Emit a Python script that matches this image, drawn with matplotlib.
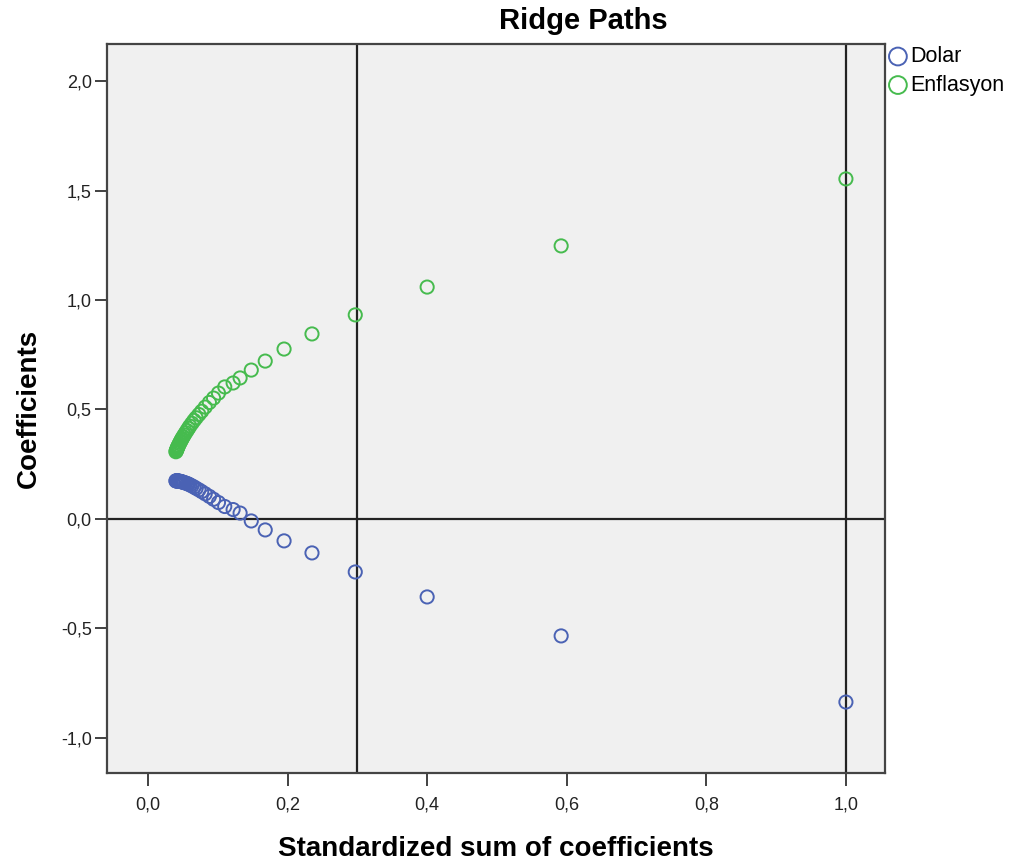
import matplotlib
matplotlib.use("Agg")
import matplotlib.pyplot as plt
from matplotlib.ticker import FuncFormatter

# ---- data ----
std_sum = [1.000, 0.592, 0.400, 0.297, 0.235, 0.195, 0.168, 0.148, 0.132, 0.122,
           0.110, 0.101, 0.094, 0.088, 0.082, 0.077, 0.073, 0.069, 0.066, 0.063,
           0.060, 0.058, 0.056, 0.054, 0.052, 0.0505, 0.049, 0.048, 0.047, 0.046,
           0.045, 0.044, 0.0432, 0.0425, 0.042, 0.0415, 0.041, 0.0405, 0.040]
dolar = [-0.836, -0.534, -0.356, -0.242, -0.155, -0.100, -0.050, -0.009, 0.027, 0.043,
         0.057, 0.075, 0.090, 0.103, 0.115, 0.125, 0.133, 0.140, 0.146, 0.151,
         0.156, 0.159, 0.162, 0.164, 0.166, 0.168, 0.169, 0.170, 0.171, 0.172,
         0.172, 0.173, 0.173, 0.174, 0.174, 0.174, 0.174, 0.174, 0.174]
enflasyon = [1.553, 1.247, 1.059, 0.932, 0.845, 0.776, 0.721, 0.680, 0.644, 0.621,
             0.603, 0.575, 0.552, 0.532, 0.511, 0.492, 0.477, 0.462, 0.450, 0.437,
             0.424, 0.414, 0.404, 0.394, 0.384, 0.376, 0.368, 0.362, 0.356, 0.350,
             0.344, 0.337, 0.332, 0.327, 0.323, 0.319, 0.315, 0.311, 0.307]
series_names = ["Dolar", "Enflasyon"]
x_ticks = [0.0, 0.2, 0.4, 0.6, 0.8, 1.0]
y_ticks = [-1.0, -0.5, 0.0, 0.5, 1.0, 1.5, 2.0]
ref_x = [0.3, 1.0]
ref_y = [0.0]

plt.rcParams['font.family'] = ['Liberation Sans', 'DejaVu Sans']

fig = plt.figure(figsize=(10.11, 8.66), dpi=100)
ax = fig.add_axes([107/1011, 1-773/866, (885-107)/1011, (773-44)/866])
ax.set_facecolor('#f0f0f0')

blue = '#4a62b4'
green = '#46bb4e'
ax.scatter(std_sum, dolar, s=90, facecolors='none', edgecolors=blue, linewidths=1.4,
           label=series_names[0], zorder=3)
ax.scatter(std_sum, enflasyon, s=90, facecolors='none', edgecolors=green, linewidths=1.4,
           label=series_names[1], zorder=3)

for xv in ref_x:
    ax.axvline(xv, color='#222222', lw=1.6, zorder=2)
for yv in ref_y:
    ax.axhline(yv, color='#222222', lw=1.6, zorder=2)

ax.set_xlim(-0.0587, 1.056)
ax.set_ylim(-1.16, 2.169)
ax.set_xticks(x_ticks)
ax.set_yticks(y_ticks)
fmt = FuncFormatter(lambda v, p: f"{v:.1f}".replace('.', ','))
ax.xaxis.set_major_formatter(fmt)
ax.yaxis.set_major_formatter(fmt)
ax.tick_params(axis='both', direction='out', length=9, width=1.3, color='#333333',
               labelsize=13, labelcolor='#222222')
ax.tick_params(axis='x', pad=8)
ax.tick_params(axis='y', pad=2)
for sp in ax.spines.values():
    sp.set_color('#444444')
    sp.set_linewidth(1.6)

ax.set_xlabel("Standardized sum of coefficients", fontsize=20, fontweight='bold', labelpad=16)
ax.set_ylabel("Coefficients", fontsize=20, fontweight='bold', labelpad=14)
fig.text(583/1011, 1-21/866, "Ridge Paths", ha='center', va='center', fontsize=21,
         fontweight='bold')

leg = ax.legend(loc='upper left', bbox_to_anchor=(1.0, 1.0), frameon=False,
                fontsize=15.5, handletextpad=0.05, borderaxespad=0.0, borderpad=0.1,
                labelspacing=0.35, handlelength=1.0, markerscale=1.35)

fig.savefig("out.png", dpi=100, facecolor='white')
